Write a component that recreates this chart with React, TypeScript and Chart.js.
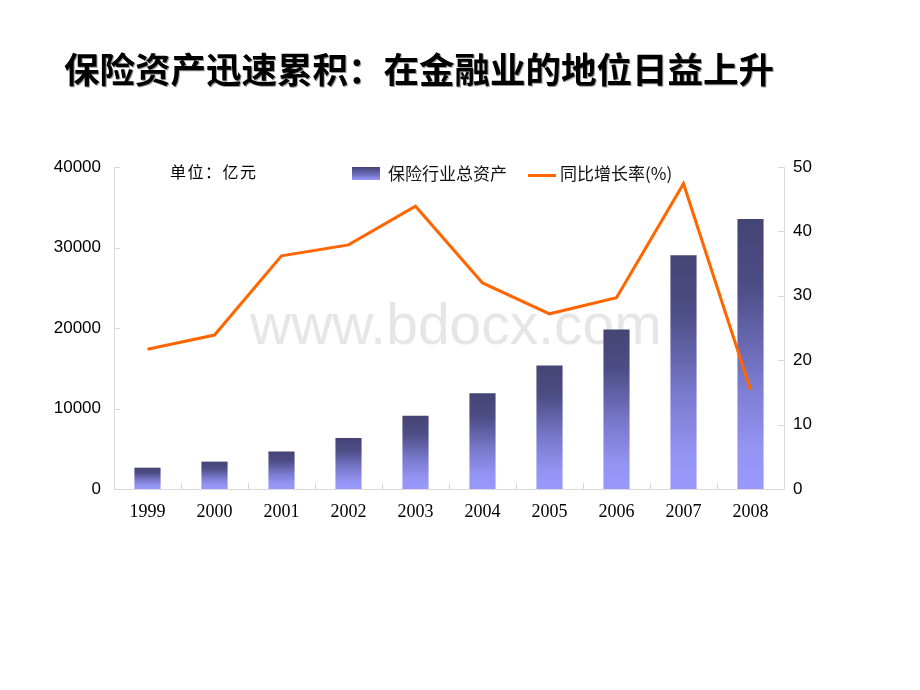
import React, { useEffect, useRef } from "react";
import { Chart, registerables } from "chart.js";

Chart.register(...registerables);

const years = ["1999", "2000", "2001", "2002", "2003", "2004", "2005", "2006", "2007", "2008"];
const totalAssets = [2650, 3400, 4650, 6350, 9100, 11900, 15350, 19800, 29050, 33550];
const growthRate = [21.7, 23.9, 36.2, 37.9, 43.9, 32.0, 27.2, 29.7, 47.4, 15.4];
const leftTicks = [0, 10000, 20000, 30000, 40000];
const rightTicks = [0, 10, 20, 30, 40, 50];

const titleText = "保险资产迅速累积：在金融业的地位日益上升";
const unitText = "单位：亿元";
const barLabel = "保险行业总资产";
const lineLabel = "同比增长率(%)";

const AXIS_COLOR = "#d9d9d9";

const innerTicks = {
  id: "innerTicks",
  afterDraw(chart: any) {
    const { ctx, chartArea, scales } = chart;
    ctx.save();
    ctx.strokeStyle = AXIS_COLOR;
    ctx.lineWidth = 1;
    ctx.beginPath();
    scales.y.ticks.forEach((t: any) => {
      const py = Math.round(scales.y.getPixelForValue(t.value)) + 0.5;
      ctx.moveTo(chartArea.left, py);
      ctx.lineTo(chartArea.left + 6, py);
    });
    scales.y1.ticks.forEach((t: any) => {
      const py = Math.round(scales.y1.getPixelForValue(t.value)) + 0.5;
      ctx.moveTo(chartArea.right - 6, py);
      ctx.lineTo(chartArea.right, py);
    });
    const n = years.length;
    for (let i = 1; i < n; i++) {
      const px = Math.round((scales.x.getPixelForValue(i - 1) + scales.x.getPixelForValue(i)) / 2) + 0.5;
      ctx.moveTo(px, chartArea.bottom);
      ctx.lineTo(px, chartArea.bottom - 6);
    }
    ctx.stroke();
    ctx.restore();
  },
};

export default function App() {
  const canvasRef = useRef<HTMLCanvasElement | null>(null);

  useEffect(() => {
    if (!canvasRef.current) return;
    const chart = new Chart(canvasRef.current, {
      type: "bar",
      data: {
        labels: years,
        datasets: [
          {
            type: "line",
            label: lineLabel,
            data: growthRate,
            yAxisID: "y1",
            borderColor: "#ff6600",
            backgroundColor: "#ff6600",
            borderWidth: 3,
            pointRadius: 0,
            tension: 0,
            order: 0,
          } as any,
          {
            type: "bar",
            label: barLabel,
            data: totalAssets,
            yAxisID: "y",
            categoryPercentage: 1,
            barPercentage: 0.39,
            order: 1,
            backgroundColor: (c: any) => {
              const ch = c.chart;
              if (!ch.chartArea || c.type !== "data") return "#6b6bb8";
              const sc = ch.scales.y;
              const top = sc.getPixelForValue(c.parsed.y);
              const bottom = sc.getPixelForValue(0);
              const g = ch.ctx.createLinearGradient(0, top, 0, bottom);
              g.addColorStop(0, "#444474");
              g.addColorStop(0.25, "#4d4d86");
              g.addColorStop(0.6, "#7a7acf");
              g.addColorStop(0.85, "#9494f3");
              g.addColorStop(1, "#9999fc");
              return g;
            },
          } as any,
        ],
      },
      options: {
        responsive: true,
        maintainAspectRatio: false,
        animation: false,
        layout: { padding: { top: 167, left: 0, right: 0, bottom: 0 } },
        plugins: {
          legend: { display: false },
          tooltip: { enabled: false },
          title: { display: false },
        },
        scales: {
          x: {
            grid: { display: false, drawTicks: false, tickLength: 0 },
            border: { display: true, color: AXIS_COLOR },
            ticks: {
              color: "#000",
              font: { family: '"Liberation Serif", serif', size: 18 },
              padding: 12,
              maxRotation: 0,
            },
            afterFit: (s: any) => {
              s.height = 201;
            },
          },
          y: {
            position: "left",
            min: 0,
            max: 40000,
            grid: { display: false, drawTicks: false, tickLength: 0 },
            border: { display: true, color: AXIS_COLOR },
            afterBuildTicks: (s: any) => {
              s.ticks = leftTicks.map((v) => ({ value: v }));
            },
            ticks: {
              color: "#000",
              font: { family: '"Liberation Sans", Arial, sans-serif', size: 17 },
              padding: 13,
              callback: (v: any) => String(v),
            },
            afterFit: (s: any) => {
              s.width = 114;
            },
          },
          y1: {
            position: "right",
            min: 0,
            max: 50,
            grid: { display: false, drawTicks: false, tickLength: 0 },
            border: { display: true, color: AXIS_COLOR },
            afterBuildTicks: (s: any) => {
              s.ticks = rightTicks.map((v) => ({ value: v }));
            },
            ticks: {
              color: "#000",
              font: { family: '"Liberation Sans", Arial, sans-serif', size: 17 },
              padding: 9,
              callback: (v: any) => String(v),
            },
            afterFit: (s: any) => {
              s.width = 136;
            },
          },
        },
      },
      plugins: [innerTicks],
    });
    return () => chart.destroy();
  }, []);

  const cjk = '"Noto Sans CJK SC", "Noto Sans", sans-serif';

  return (
    <div
      style={{
        position: "fixed",
        left: 0,
        top: 0,
        width: 920,
        height: 690,
        background: "#fff",
        overflow: "hidden",
      }}
    >
      <div
        style={{
          position: "absolute",
          left: 250,
          top: 296,
          fontFamily: '"Liberation Sans", Arial, sans-serif',
          fontSize: 57,
          color: "#e6e6e6",
          lineHeight: 1,
          whiteSpace: "nowrap",
        }}
      >
        www.bdocx.com
      </div>
      <canvas
        ref={canvasRef}
        style={{ position: "absolute", left: 0, top: 0, width: 920, height: 690 }}
      />
      <div
        style={{
          position: "absolute",
          left: 64,
          top: 50,
          fontFamily: cjk,
          fontWeight: 700,
          fontSize: 35.5,
          lineHeight: 1,
          color: "#000",
          whiteSpace: "nowrap",
          textShadow: "1px 1px 0 #999",
        }}
      >
        {titleText}
      </div>
      <div
        style={{
          position: "absolute",
          left: 170,
          top: 162,
          fontFamily: cjk,
          fontSize: 16,
          lineHeight: 1.2,
          color: "#000",
          letterSpacing: 1.5,
          whiteSpace: "nowrap",
        }}
      >
        {unitText}
      </div>
      <div
        style={{
          position: "absolute",
          left: 352,
          top: 167,
          width: 28,
          height: 13,
          background: "linear-gradient(#444474, #6a6ab8 55%, #9999fc)",
        }}
      />
      <div
        style={{
          position: "absolute",
          left: 388,
          top: 163,
          fontFamily: cjk,
          fontSize: 17,
          lineHeight: 1.2,
          color: "#111",
          whiteSpace: "nowrap",
        }}
      >
        {barLabel}
      </div>
      <div
        style={{
          position: "absolute",
          left: 528,
          top: 174,
          width: 28,
          height: 3,
          background: "#ff6600",
        }}
      />
      <div
        style={{
          position: "absolute",
          left: 560,
          top: 163,
          fontFamily: cjk,
          fontSize: 17,
          lineHeight: 1.2,
          color: "#111",
          whiteSpace: "nowrap",
        }}
      >
        {lineLabel}
      </div>
    </div>
  );
}
